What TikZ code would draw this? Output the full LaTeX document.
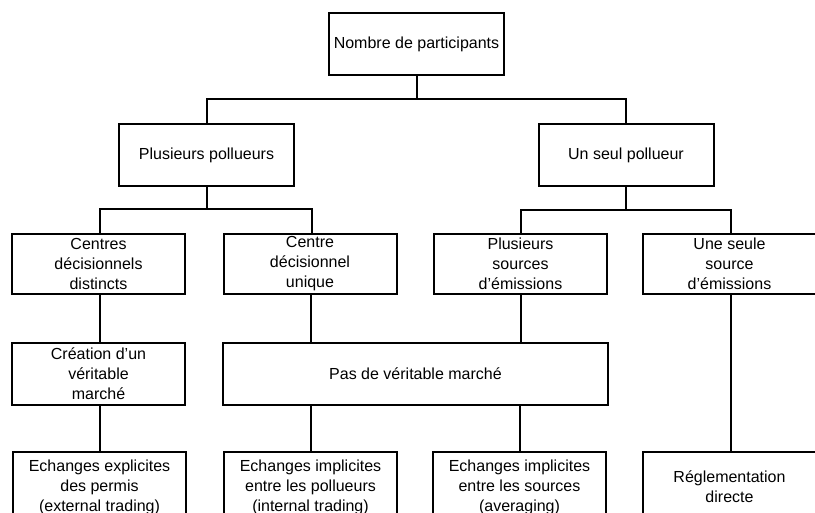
\documentclass[tikz,border=0pt]{standalone}
\usepackage{fontspec}
\setmainfont{Liberation Sans}
\usepackage{tikz}

\begin{document}
\begin{tikzpicture}[x=1pt, y=-1pt, line width=2pt,
    box/.style={draw, align=center, inner sep=0pt, minimum height=62,
        font=\fontsize{16}{20}\selectfont},
    narrow/.style={box, minimum width=173},
    wide/.style={box, minimum width=175}]
    \useasboundingbox (0,0) rectangle (815,513);

    % Root
    \node[wide] (root) at (416.5,44.5) {Nombre de participants};

    % Number of polluters
    \node[wide] (plus) at (206.5,155.5) {Plusieurs pollueurs};
    \node[wide] (seul) at (626,155) {Un seul pollueur};

    % Decision centres and sources
    \node[narrow, minimum height=60] (distincts) at (98.5,264) {Centres\\décisionnels\\distincts};
    \node[narrow, minimum height=60] (unique) at (310,264) {Centre\\décisionnel\\unique};
    \node[narrow, minimum height=60] (sources) at (520.5,264) {Plusieurs\\sources\\d'émissions};
    \node[narrow, minimum height=60] (source) at (729.5,264) {Une seule\\source\\d'émissions};

    % Market or not
    \node[narrow] (marche) at (98.5,374) {Création d'un\\véritable\\marché};
    \node[box, minimum width=385] (pasmarche) at (415.5,374) {Pas de véritable marché};

    % Outcomes
    \node[narrow, minimum height=70] (external) at (99.5,487) {Echanges explicites\\des permis\\(external trading)};
    \node[narrow, minimum height=70] (internal) at (310.5,487) {Echanges implicites\\entre les pollueurs\\(internal trading)};
    \node[narrow, minimum height=70] (averaging) at (519.5,487) {Echanges implicites\\entre les sources\\(averaging)};
    \node[narrow, minimum height=70] (directe) at (729.5,487) {Réglementation\\directe};

    % Tree lines
    \draw (root.south) -- ++(0,22.5) -| (plus.north);
    \draw (root.south) -- ++(0,22.5) -| (seul.north);
    \draw (plus.south) -- ++(0,22) -| ([xshift=1.5pt]distincts.north);
    \draw (plus.south) -- ++(0,22) -| ([xshift=1.5pt]unique.north);
    \draw (seul.south) -- ++(0,23) -| (sources.north);
    \draw (seul.south) -- ++(0,23) -| ([xshift=1.5pt]source.north);

    \draw ([xshift=1.5pt]distincts.south) -- ([xshift=1.5pt]marche.north);
    \draw ([xshift=1pt]unique.south) -- ([xshift=1pt]unique.south |- pasmarche.north);
    \draw (sources.south) -- (sources.south |- pasmarche.north);
    \draw ([xshift=1.5pt]source.south) -- ([xshift=1.5pt]directe.north);

    \draw (marche.south -| external.north) -- (external.north);
    \draw (pasmarche.south -| internal.north) -- (internal.north);
    \draw (pasmarche.south -| averaging.north) -- (averaging.north);
\end{tikzpicture}
\end{document}
